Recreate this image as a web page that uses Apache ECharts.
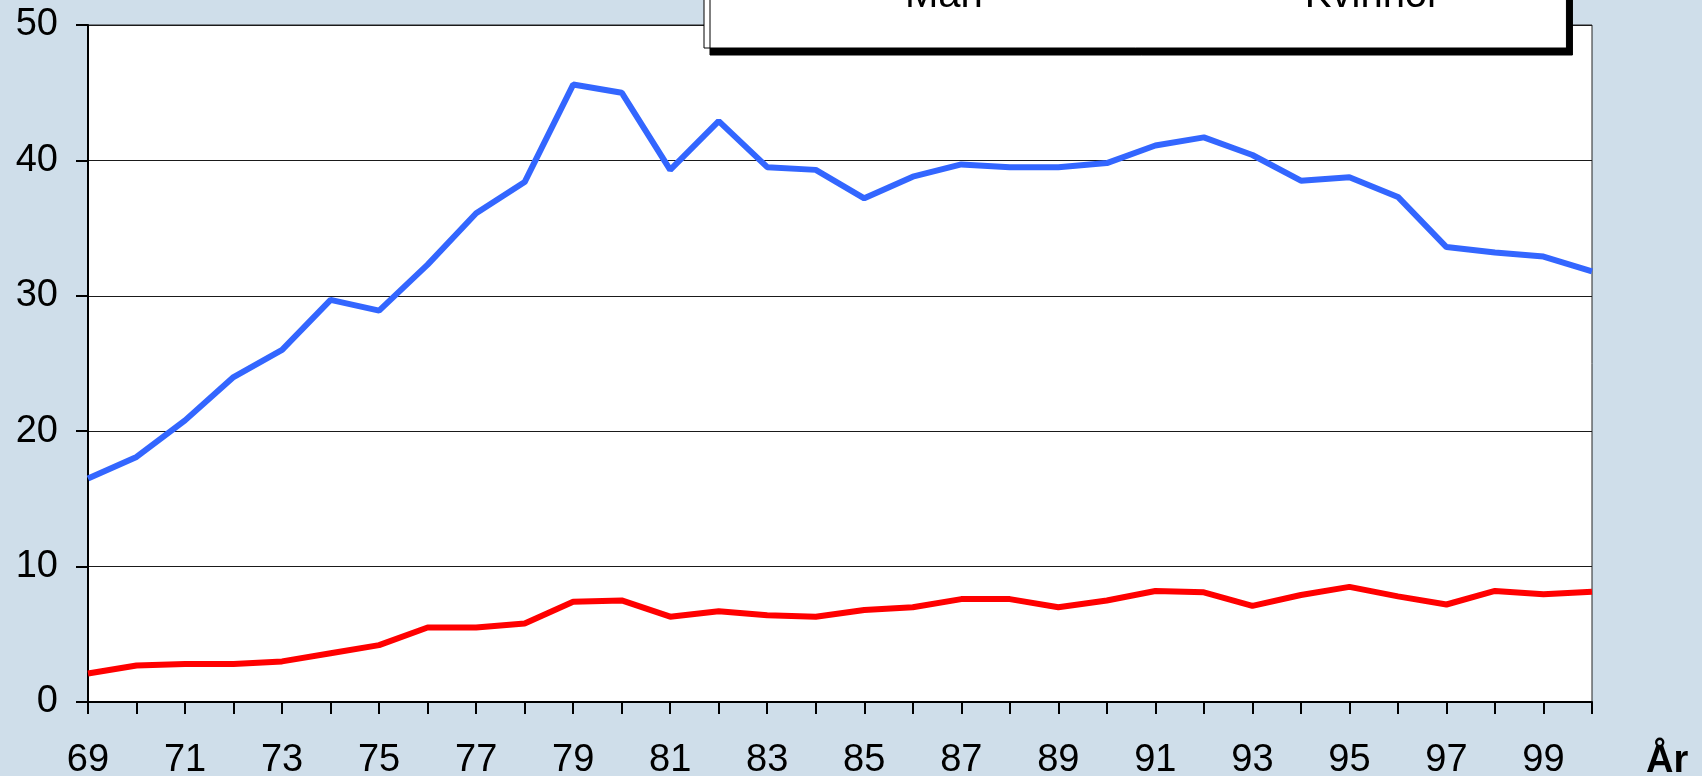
<!DOCTYPE html>
<html>
<head>
<meta charset="utf-8">
<script src="https://cdn.jsdelivr.net/npm/echarts@6/dist/echarts.min.js"></script>
<style>
html,body{margin:0;padding:0;background:#CFDEEA;}
#chart{width:1702px;height:776px;}
</style>
</head>
<body>
<div id="chart"></div>
<script>
var years = ['69','70','71','72','73','74','75','76','77','78','79','80','81','82','83','84','85','86','87','88','89','90','91','92','93','94','95','96','97','98','99','00'];
var man = [16.5,18.1,20.8,24.0,26.0,29.7,28.9,32.3,36.1,38.4,45.6,45.0,39.3,42.9,39.5,39.3,37.2,38.8,39.7,39.5,39.5,39.8,41.1,41.7,40.4,38.5,38.75,37.3,33.6,33.2,32.9,31.8];
var kvinnor = [2.1,2.7,2.8,2.8,3.0,3.6,4.2,5.5,5.5,5.8,7.4,7.5,6.3,6.7,6.4,6.3,6.8,7.0,7.6,7.6,7.0,7.5,8.2,8.1,7.1,7.9,8.5,7.8,7.2,8.2,7.95,8.15];
var seriesNames = ['Män','Kvinnor'];
var xAxisName = 'År';

var FONT = '"Liberation Sans", Arial, sans-serif';
var chart = echarts.init(document.getElementById('chart'), null, {renderer:'canvas'});
chart.setOption({
  backgroundColor: '#CFDEEA',
  animation: false,
  grid: {
    left: 88, right: 110, top: 25, bottom: 74,
    containLabel: false,
    outerBoundsMode: 'none',
    show: true, backgroundColor: '#ffffff', borderColor: '#222', borderWidth: 1
  },
  legend: {
    data: seriesNames,
    left: 704, top: -34,
    orient: 'horizontal',
    padding: [10, 126, 32, 136],
    itemGap: 257, itemWidth: 60, itemHeight: 4,
    icon: 'rect',
    backgroundColor: '#ffffff', borderColor: '#000', borderWidth: 1,
    shadowColor: '#000', shadowBlur: 0, shadowOffsetX: 6, shadowOffsetY: 7,
    textStyle: { fontSize: 40, color: '#000', fontFamily: FONT }
  },
  xAxis: {
    type: 'category',
    data: years,
    boundaryGap: false,
    name: xAxisName,
    nameLocation: 'end',
    nameGap: 54,
    nameTextStyle: { fontSize: 38, fontWeight: 'bold', color: '#000', fontFamily: FONT, verticalAlign: 'top', padding: [41, 0, 0, 0] },
    axisLine: { lineStyle: { color: '#000', width: 2 } },
    axisTick: { show: true, interval: 0, length: 12, lineStyle: { color: '#000', width: 2 } },
    axisLabel: { interval: 1, margin: 40, fontSize: 38, color: '#000', fontFamily: FONT },
    splitLine: { show: false }
  },
  yAxis: {
    type: 'value',
    min: 0, max: 50, interval: 10,
    axisLine: { show: true, lineStyle: { color: '#000', width: 2 } },
    axisTick: { show: true, length: 12, lineStyle: { color: '#000', width: 2 } },
    axisLabel: { margin: 30, fontSize: 38, color: '#000', fontFamily: FONT },
    splitLine: { show: true, lineStyle: { color: '#1a1a1a', width: 1.2 } }
  },
  series: [
    { name: seriesNames[0], type: 'line', data: man, showSymbol: false, symbol: 'none',
      lineStyle: { color: '#3366FF', width: 6 }, itemStyle: { color: '#3366FF' } },
    { name: seriesNames[1], type: 'line', data: kvinnor, showSymbol: false, symbol: 'none',
      lineStyle: { color: '#FF0000', width: 6 }, itemStyle: { color: '#FF0000' } }
  ]
});
</script>
</body>
</html>
